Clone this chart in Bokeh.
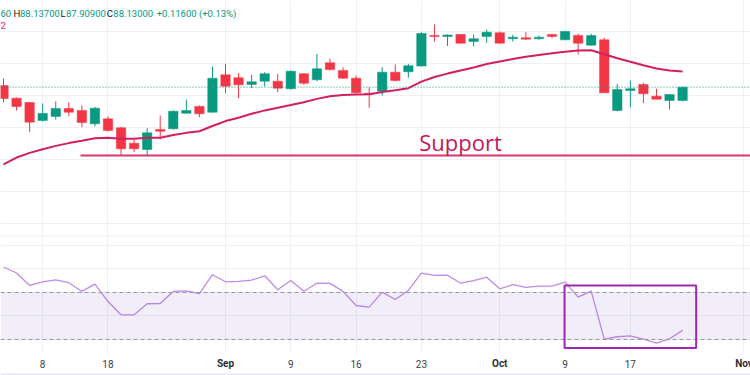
from bokeh.plotting import figure
from bokeh.layouts import column
from bokeh.models import Range1d, FixedTicker, Span, BoxAnnotation, Label
from bokeh.core.properties import value
from bokeh.embed import file_html
from bokeh.resources import INLINE

# ---------------- data ----------------
opens = [88.156, 87.958, 87.891, 87.609, 87.672, 87.797, 87.766, 87.558, 87.636, 87.495,
         87.255, 87.156, 87.469, 87.480, 87.723, 87.828, 87.739, 88.323, 88.277, 88.172,
         88.223, 88.223, 88.105, 88.339, 88.245, 88.511, 88.391, 88.270, 88.034, 88.067,
         88.364, 88.370, 88.461, 88.938, 88.922, 88.953, 88.844, 88.922, 88.980, 88.886,
         88.902, 88.886, 88.953, 88.870, 88.938, 88.786, 88.870, 87.766, 88.078, 88.172,
         87.989, 87.922, 87.922]
highs = [88.266, 87.969, 87.898, 87.875, 87.906, 87.895, 87.844, 87.820, 87.672, 87.508,
         87.308, 87.489, 87.688, 87.766, 87.938, 87.844, 88.453, 88.495, 88.348, 88.323,
         88.364, 88.339, 88.391, 88.352, 88.652, 88.573, 88.442, 88.313, 88.130, 88.442,
         88.484, 88.495, 88.989, 89.109, 88.953, 88.961, 88.953, 89.031, 89.000, 88.948,
         88.989, 88.938, 88.961, 89.008, 88.964, 88.964, 88.902, 88.183, 88.234, 88.198,
         88.105, 88.016, 88.137]
lows = [87.891, 87.766, 87.427, 87.594, 87.625, 87.677, 87.505, 87.516, 87.438, 87.063,
        87.114, 87.063, 87.313, 87.469, 87.719, 87.661, 87.734, 88.036, 87.958, 88.114,
        88.141, 88.052, 88.094, 88.167, 88.223, 88.391, 88.261, 88.031, 87.808, 88.000,
        88.219, 88.277, 88.453, 88.844, 88.773, 88.813, 88.766, 88.823, 88.813, 88.844,
        88.870, 88.870, 88.895, 88.867, 88.641, 88.781, 88.039, 87.750, 87.817, 87.880,
        87.938, 87.781, 87.909]
closes = [87.953, 87.828, 87.583, 87.719, 87.797, 87.739, 87.578, 87.802, 87.453, 87.167,
          87.167, 87.417, 87.442, 87.755, 87.766, 87.714, 88.270, 88.145, 88.167, 88.214,
          88.339, 88.114, 88.380, 88.192, 88.417, 88.406, 88.270, 88.042, 88.019, 88.364,
          88.234, 88.464, 88.969, 88.922, 88.945, 88.817, 88.886, 88.989, 88.817, 88.911,
          88.880, 88.911, 88.922, 89.000, 88.817, 88.938, 88.042, 88.094, 88.105, 88.027,
          87.942, 88.014, 88.130]
ema = [86.922, 87.031, 87.103, 87.161, 87.213, 87.256, 87.292, 87.331, 87.339, 87.323,
       87.323, 87.339, 87.339, 87.384, 87.416, 87.442, 87.523, 87.600, 87.652, 87.714,
       87.767, 87.809, 87.850, 87.894, 87.947, 87.989, 88.009, 88.016, 88.020, 88.055,
       88.081, 88.114, 88.216, 88.289, 88.342, 88.391, 88.438, 88.491, 88.531, 88.570,
       88.605, 88.633, 88.659, 88.683, 88.702, 88.706, 88.644, 88.583, 88.527, 88.472,
       88.423, 88.389, 88.375]
rsi = [91.7, 86.6, 76.0, 79.1, 80.8, 78.3, 70.9, 77.1, 62.3, 51.0,
       51.0, 60.4, 60.6, 70.9, 71.4, 69.1, 85.1, 79.1, 79.4, 80.5,
       84.2, 72.3, 80.2, 71.1, 77.9, 77.7, 70.9, 58.9, 57.5, 70.3,
       64.0, 71.7, 86.4, 84.5, 84.7, 77.9, 80.0, 83.0, 73.1, 76.6,
       74.3, 75.4, 75.4, 78.8, 66.0, 71.1, 30.3, 32.3, 33.1, 30.3,
       26.9, 30.6, 37.7]
tick_pos = [3, 8, 17, 22, 27, 32, 38, 43, 48, 56.7]
tick_labels = ["8", "18", "Sep", "9", "16", "23", "Oct", "9", "17", "Nov"]
price_grid = [86.0, 86.5, 87.0, 87.5, 88.0, 88.5, 89.0]
rsi_grid = [30, 50, 70, 90, 110]
support_level = 87.0625
rsi_upper, rsi_lower = 70, 30

# ---------------- styles ----------------
UP, DOWN = "#089981", "#f23645"
GRID = "#eef0f5"
W = 750
idx = list(range(len(closes)))
xr = Range1d(-0.23, 57.2)
common = dict(width=W, x_range=xr, output_backend="svg", toolbar_location=None,
              x_axis_location=None, y_axis_location=None, min_border=0,
              outline_line_color=None, background_fill_color="white",
              border_fill_color="white")

# ---------------- price pane ----------------
p1 = figure(height=235, y_range=Range1d(85.8125, 89.484), **common)
p1.xgrid.ticker = FixedTicker(ticks=tick_pos)
p1.ygrid.ticker = FixedTicker(ticks=price_grid)
p1.xgrid.grid_line_color = GRID
p1.ygrid.grid_line_color = GRID

colors = [UP if c >= o else DOWN for o, c in zip(opens, closes)]
tops = [max(o, c) for o, c in zip(opens, closes)]
bots = [min(o, c) for o, c in zip(opens, closes)]
p1.segment(x0=idx, y0=highs, x1=idx, y1=lows, line_color=colors, line_width=1)
p1.vbar(x=idx, top=tops, bottom=bots, width=0.72, fill_color=colors, line_color=colors, line_width=0.5)

p1.add_layout(Span(location=closes[-1], dimension="width", line_color=UP,
                   line_dash="1 2", line_width=1))
p1.line(idx, ema, line_color="#d21f5f", line_width=2)
p1.segment(x0=[5.9], y0=[support_level], x1=[58], y1=[support_level],
           line_color="#d8386d", line_width=2)
p1.add_layout(Label(x=35.0, y=87.27, text="Support", text_align="center",
                    text_baseline="alphabetic", text_font="Open Sans",
                    text_font_size="22px", text_color="#c2185b"))

hdr_y = 89.281
hdr = [("60", -0.23, UP), ("H", 0.766, "#131722"), ("88.13700", 1.263, UP),
       ("L", 4.364, "#131722"), ("87.90900", 4.785, UP), ("C", 7.910, "#131722"),
       ("88.13000", 8.407, UP), ("+0.11600 (+0.13%)", 11.73, UP)]
for t, xx, col in hdr:
    p1.add_layout(Label(x=xx, y=hdr_y, text=t, text_align="left", text_baseline="middle",
                        text_font="Roboto", text_font_size="9.5px", text_color=col))
p1.add_layout(Label(x=-0.23, y=89.10, text="2", text_align="left", text_baseline="middle",
                    text_font="Roboto", text_font_size="9.5px", text_color="#e91e63"))

# ---------------- RSI pane ----------------
p2 = figure(height=119, y_range=Range1d(17.2, 118.5), **common)
p2.xgrid.ticker = FixedTicker(ticks=tick_pos)
p2.ygrid.ticker = FixedTicker(ticks=rsi_grid)
p2.xgrid.grid_line_color = GRID
p2.ygrid.grid_line_color = GRID
p2.add_layout(BoxAnnotation(bottom=rsi_lower, top=rsi_upper, fill_color="#7e57c2",
                            fill_alpha=0.1, line_color=None))
for lvl in (rsi_upper, rsi_lower):
    p2.add_layout(Span(location=lvl, dimension="width", line_color="#9598a1",
                       line_dash="4 3", line_width=1))
p2.add_layout(Span(location=118.2, dimension="width", line_color="#e0e3eb", line_width=1))
p2.line(idx, rsi, line_color="#bf8be8", line_width=1.3)
p2.add_layout(BoxAnnotation(left=42.96, right=53.04, bottom=22.8, top=75.96,
                            fill_color=None, fill_alpha=0, line_color="#9c27b0",
                            line_alpha=1, line_width=2))

# ---------------- time axis ----------------
p3 = figure(height=21, y_range=Range1d(0, 1), **common)
p3.xgrid.visible = False
p3.ygrid.visible = False
day_x = [x for x, l in zip(tick_pos, tick_labels) if l.isdigit()]
day_t = [l for l in tick_labels if l.isdigit()]
mon_x = [x for x, l in zip(tick_pos, tick_labels) if not l.isdigit()]
mon_t = [l for l in tick_labels if not l.isdigit()]
p3.text(x=day_x, y=[0.55] * len(day_x), text=day_t, text_align="center",
        text_baseline="middle", text_font=value("Roboto"), text_font_size="10px",
        text_color="#3d404a")
p3.text(x=mon_x, y=[0.55] * len(mon_x), text=mon_t, text_align="center",
        text_baseline="middle", text_font=value("Roboto"), text_font_size="10px",
        text_font_style="bold", text_color="#2a2e39")
p3.add_layout(BoxAnnotation(bottom=0, top=0.1, fill_color="#e9e7f4", fill_alpha=1,
                            line_color=None))

layout = column(p1, p2, p3, spacing=0)
open("out.html", "w").write(file_html(layout, INLINE))
